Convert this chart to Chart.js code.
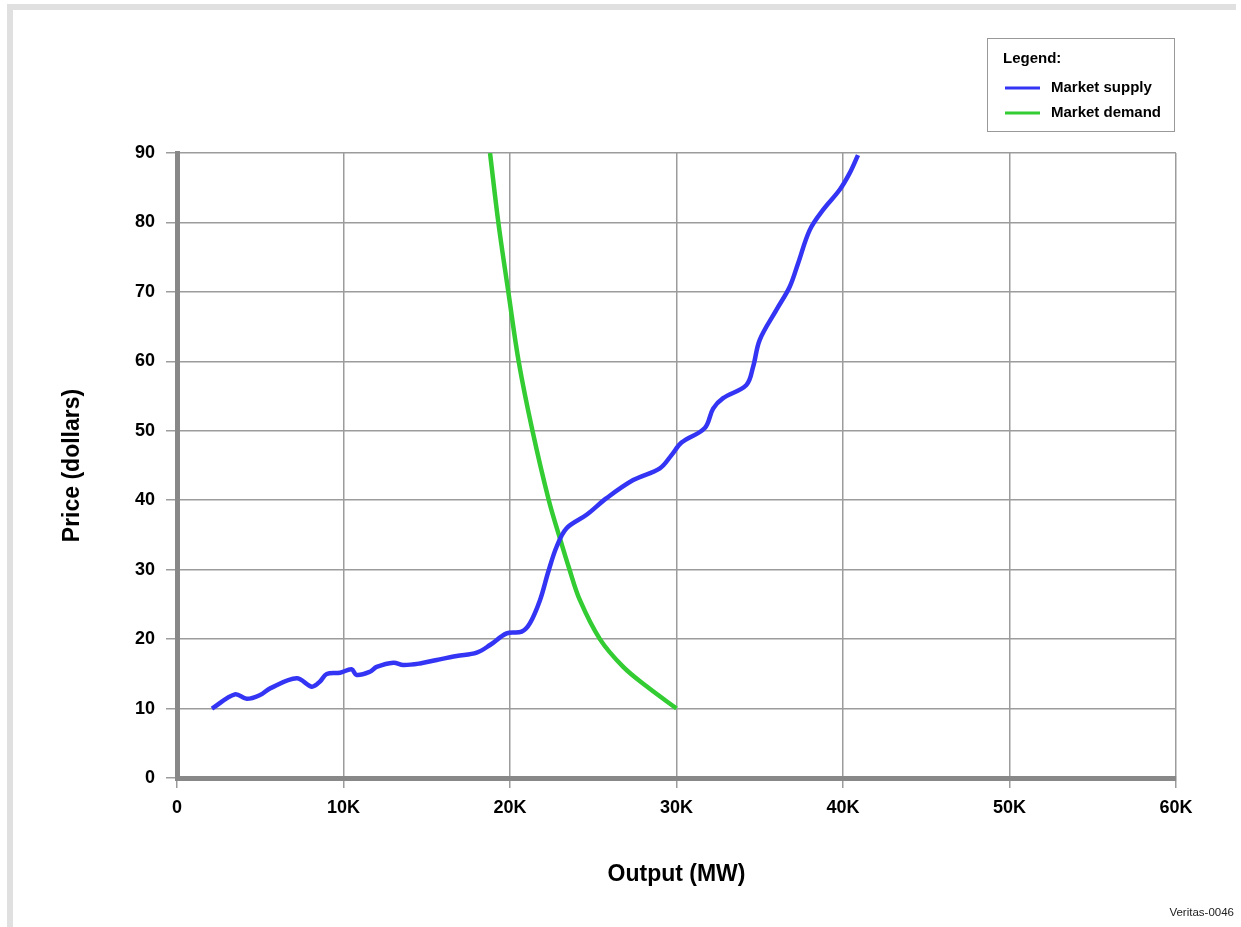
<!DOCTYPE html>
<html>
<head>
<meta charset="utf-8">
<script src="https://cdn.jsdelivr.net/npm/chart.js@4.4.1/dist/chart.umd.min.js"></script>
<style>
  html, body { margin: 0; padding: 0; background: #fff; }
  #wrap { width: 1241px; height: 927px; }
</style>
</head>
<body>
<div id="wrap"><canvas id="myChart" width="1241" height="927"></canvas></div>
<script>
// data
var supplyX = [2100, 3480, 4190, 4985, 5590, 7190, 8090, 8590, 8990, 9790, 10490, 10790, 11590, 11990, 13000, 13590, 14600, 15600, 16800, 18000, 18800, 19800, 20700, 21200, 21800, 22300, 22800, 23400, 24600, 25800, 27400, 29000, 29700, 30300, 31700, 32200, 32800, 34200, 34600, 35000, 36000, 36800, 37300, 38000, 38800, 39800, 40400, 40900];
var supplyY = [10, 12.05, 11.4, 11.95, 12.9, 14.35, 13.15, 13.9, 14.98, 15.16, 15.65, 14.83, 15.3, 16.0, 16.6, 16.27, 16.5, 17.0, 17.57, 18.05, 19.15, 20.83, 21.07, 22.3, 25.6, 29.7, 33.3, 35.96, 37.9, 40.3, 42.9, 44.6, 46.5, 48.3, 50.4, 53.2, 54.7, 56.6, 59.2, 63.1, 67.4, 70.75, 74.1, 78.9, 81.8, 84.7, 87.1, 89.7];

var demandX = [18800, 19300, 19900, 20520, 21350, 22330, 23000, 23550, 24200, 25400, 26800, 28200, 30000];
var demandY = [90, 80, 70, 60, 50, 40, 34.5, 30.2, 25.6, 20, 16, 13.2, 10];

var xTicks = [0, 10000, 20000, 30000, 40000, 50000, 60000];
var yTicks = [0, 10, 20, 30, 40, 50, 60, 70, 80, 90];

var seriesNames = ['Market supply', 'Market demand'];
var seriesColors = ['#3434f4', '#33cc33'];

function toPoints(xs, ys) {
    var pts = [];
    for (var i = 0; i < xs.length; i++) {
        pts.push({x: xs[i], y: ys[i]});
    }
    return pts;
}

var FONT = "'Liberation Sans', Arial, sans-serif";

// page frame, legend box and footer text
var decorPlugin = {
    id: 'decor',
    beforeDraw: function(chart) {
        var ctx = chart.ctx;
        ctx.save();
        ctx.fillStyle = '#ffffff';
        ctx.fillRect(0, 0, chart.width, chart.height);
        ctx.fillStyle = '#e0e0e0';
        ctx.fillRect(7, 4, 1229, 6);
        ctx.fillRect(7, 4, 6, chart.height - 4);
        ctx.restore();
    },
    afterDraw: function(chart) {
        var ctx = chart.ctx;
        ctx.save();
        ctx.strokeStyle = '#999';
        ctx.lineWidth = 1;
        ctx.fillStyle = '#fff';
        ctx.fillRect(987, 38, 188, 94);
        ctx.strokeRect(987.5, 38.5, 187, 93);

        ctx.fillStyle = '#000';
        ctx.textBaseline = 'middle';
        ctx.textAlign = 'left';
        ctx.font = 'bold 15px ' + FONT;
        ctx.fillText('Legend:', 1003, 59);

        for (var i = 0; i < seriesNames.length; i++) {
            var y = 88 + i * 25;
            ctx.strokeStyle = seriesColors[i];
            ctx.lineWidth = 3;
            ctx.beginPath();
            ctx.moveTo(1005, y);
            ctx.lineTo(1040, y);
            ctx.stroke();
            ctx.fillText(seriesNames[i], 1051, y);
        }

        ctx.font = '11.5px ' + FONT;
        ctx.textAlign = 'right';
        ctx.fillStyle = '#222';
        ctx.fillText('Veritas-0046', 1234, 913);
        ctx.restore();
    }
};

var ctx = document.getElementById('myChart').getContext('2d');

var chartData = {
    datasets: [{
        label: seriesNames[0],
        data: toPoints(supplyX, supplyY),
        borderColor: seriesColors[0],
        borderWidth: 4.5,
        pointRadius: 0,
        showLine: true,
        tension: 0.35
    }, {
        label: seriesNames[1],
        data: toPoints(demandX, demandY),
        borderColor: seriesColors[1],
        borderWidth: 4.5,
        pointRadius: 0,
        showLine: true,
        tension: 0.35
    }]
};

var options = {
    responsive: false,
    animation: false,
    devicePixelRatio: 1,
    layout: {
        padding: {left: 0, top: 153, right: 65, bottom: 0}
    },
    plugins: {
        legend: { display: false },
        tooltip: { enabled: false }
    },
    scales: {
        x: {
            type: 'linear',
            min: 0,
            max: 60000,
            afterBuildTicks: function(scale) {
                scale.ticks = xTicks.map(function(v) { return {value: v}; });
            },
            afterFit: function(scale) { scale.height = 149; },
            ticks: {
                color: '#000',
                padding: 9,
                maxRotation: 0,
                font: { family: FONT, size: 18, weight: 'bold' },
                callback: function(v) { return v === 0 ? '0' : (v / 1000) + 'K'; }
            },
            grid: { color: '#9c9c9c', lineWidth: 1.5, tickLength: 10 },
            border: { display: true, color: '#888', width: 5 },
            title: {
                display: true,
                text: 'Output (MW)',
                color: '#000',
                font: { family: FONT, size: 23, weight: 'bold' },
                padding: { top: 0, bottom: 39 }
            }
        },
        y: {
            type: 'linear',
            min: 0,
            max: 90,
            afterBuildTicks: function(scale) {
                scale.ticks = yTicks.map(function(v) { return {value: v}; });
            },
            afterFit: function(scale) { scale.width = 177; },
            ticks: {
                color: '#000',
                padding: 11,
                font: { family: FONT, size: 18, weight: 'bold' }
            },
            grid: { color: '#9c9c9c', lineWidth: 1.5, tickLength: 11 },
            border: { display: true, color: '#888', width: 5 },
            title: {
                display: true,
                text: 'Price (dollars)',
                color: '#000',
                font: { family: FONT, size: 23, weight: 'bold' },
                padding: { top: 59, bottom: 0 }
            }
        }
    }
};

var myChart = new Chart(ctx, {
    type: 'scatter',
    data: chartData,
    options: options,
    plugins: [decorPlugin]
});
</script>
</body>
</html>
